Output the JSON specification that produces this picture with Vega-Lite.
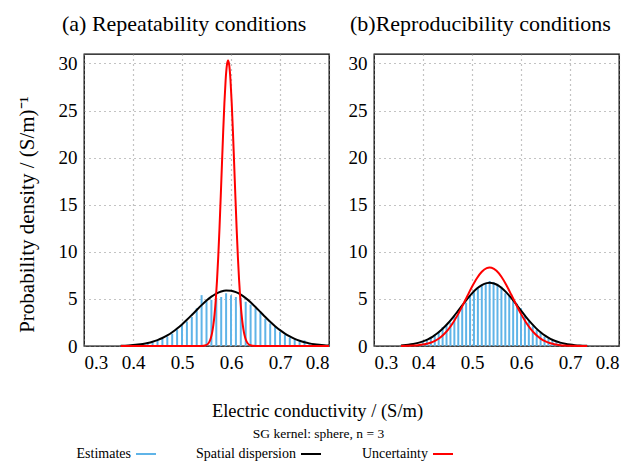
{
  "$schema": "https://vega.github.io/schema/vega-lite/v6.json",
  "background": "white",
  "padding": {"left": 15, "top": 12, "right": 5, "bottom": 0},
  "bounds": "flush",
  "spacing": 45,
  "config": {
    "font": "Liberation Serif",
    "view": {"stroke": "black", "strokeWidth": 1.3},
    "axis": {"labelFont": "Liberation Serif", "labelFontSize": 19, "labelColor": "black", "gridColor": "#888", "gridDash": [1, 4], "gridWidth": 1.2, "domain": false, "ticks": false, "labelPadding": 7, "titleFont": "Liberation Serif", "titleFontWeight": "normal", "titleColor": "black"},
    "legend": {"labelFont": "Liberation Serif", "labelFontSize": 14, "labelColor": "black"}
  },
  "datasets": {
    "a_bars": [
      {"x": 0.40, "density": 0.1}, {"x": 0.41, "density": 0.15}, {"x": 0.42, "density": 0.2}, {"x": 0.43, "density": 0.3}, {"x": 0.44, "density": 0.35},
      {"x": 0.45, "density": 0.55}, {"x": 0.46, "density": 0.75}, {"x": 0.47, "density": 1.0}, {"x": 0.48, "density": 1.3}, {"x": 0.49, "density": 1.75},
      {"x": 0.50, "density": 2.2}, {"x": 0.51, "density": 2.6}, {"x": 0.52, "density": 3.1}, {"x": 0.53, "density": 4.0}, {"x": 0.54, "density": 5.4},
      {"x": 0.55, "density": 4.8}, {"x": 0.56, "density": 4.9}, {"x": 0.57, "density": 5.1}, {"x": 0.58, "density": 5.2}, {"x": 0.59, "density": 5.6},
      {"x": 0.60, "density": 5.4}, {"x": 0.61, "density": 5.2}, {"x": 0.62, "density": 5.1}, {"x": 0.63, "density": 4.7}, {"x": 0.64, "density": 4.4},
      {"x": 0.65, "density": 4.0}, {"x": 0.66, "density": 3.5}, {"x": 0.67, "density": 2.9}, {"x": 0.68, "density": 2.4}, {"x": 0.69, "density": 2.1},
      {"x": 0.70, "density": 1.5}, {"x": 0.71, "density": 1.2}, {"x": 0.72, "density": 0.9}, {"x": 0.73, "density": 0.7}, {"x": 0.74, "density": 0.5},
      {"x": 0.75, "density": 0.6}, {"x": 0.76, "density": 0.3}, {"x": 0.77, "density": 0.2}, {"x": 0.78, "density": 0.1}
    ],
    "a_curves": [
      {"series": "Spatial dispersion", "x": 0.375, "density": 0.033}, {"series": "Spatial dispersion", "x": 0.39, "density": 0.065}, {"series": "Spatial dispersion", "x": 0.40, "density": 0.100},
      {"series": "Spatial dispersion", "x": 0.41, "density": 0.151}, {"series": "Spatial dispersion", "x": 0.42, "density": 0.223}, {"series": "Spatial dispersion", "x": 0.43, "density": 0.322},
      {"series": "Spatial dispersion", "x": 0.44, "density": 0.456}, {"series": "Spatial dispersion", "x": 0.45, "density": 0.630}, {"series": "Spatial dispersion", "x": 0.46, "density": 0.852},
      {"series": "Spatial dispersion", "x": 0.47, "density": 1.126}, {"series": "Spatial dispersion", "x": 0.48, "density": 1.459}, {"series": "Spatial dispersion", "x": 0.49, "density": 1.848},
      {"series": "Spatial dispersion", "x": 0.50, "density": 2.290}, {"series": "Spatial dispersion", "x": 0.51, "density": 2.777}, {"series": "Spatial dispersion", "x": 0.52, "density": 3.293},
      {"series": "Spatial dispersion", "x": 0.53, "density": 3.821}, {"series": "Spatial dispersion", "x": 0.54, "density": 4.339}, {"series": "Spatial dispersion", "x": 0.55, "density": 4.820},
      {"series": "Spatial dispersion", "x": 0.56, "density": 5.237}, {"series": "Spatial dispersion", "x": 0.57, "density": 5.568}, {"series": "Spatial dispersion", "x": 0.58, "density": 5.792},
      {"series": "Spatial dispersion", "x": 0.59, "density": 5.894}, {"series": "Spatial dispersion", "x": 0.60, "density": 5.868}, {"series": "Spatial dispersion", "x": 0.61, "density": 5.717},
      {"series": "Spatial dispersion", "x": 0.62, "density": 5.448}, {"series": "Spatial dispersion", "x": 0.63, "density": 5.079}, {"series": "Spatial dispersion", "x": 0.64, "density": 4.633},
      {"series": "Spatial dispersion", "x": 0.65, "density": 4.135}, {"series": "Spatial dispersion", "x": 0.66, "density": 3.610}, {"series": "Spatial dispersion", "x": 0.67, "density": 3.084},
      {"series": "Spatial dispersion", "x": 0.68, "density": 2.577}, {"series": "Spatial dispersion", "x": 0.69, "density": 2.107}, {"series": "Spatial dispersion", "x": 0.70, "density": 1.686},
      {"series": "Spatial dispersion", "x": 0.71, "density": 1.319}, {"series": "Spatial dispersion", "x": 0.72, "density": 1.010}, {"series": "Spatial dispersion", "x": 0.73, "density": 0.757},
      {"series": "Spatial dispersion", "x": 0.74, "density": 0.554}, {"series": "Spatial dispersion", "x": 0.75, "density": 0.398}, {"series": "Spatial dispersion", "x": 0.76, "density": 0.279},
      {"series": "Spatial dispersion", "x": 0.77, "density": 0.191}, {"series": "Spatial dispersion", "x": 0.78, "density": 0.129}, {"series": "Spatial dispersion", "x": 0.79, "density": 0.084},
      {"series": "Spatial dispersion", "x": 0.80, "density": 0.054},
      {"series": "Uncertainty", "x": 0.375, "density": 0}, {"series": "Uncertainty", "x": 0.50, "density": 0}, {"series": "Uncertainty", "x": 0.534, "density": 0.001},
      {"series": "Uncertainty", "x": 0.544, "density": 0.022}, {"series": "Uncertainty", "x": 0.549, "density": 0.086}, {"series": "Uncertainty", "x": 0.554, "density": 0.295},
      {"series": "Uncertainty", "x": 0.5565, "density": 0.517}, {"series": "Uncertainty", "x": 0.559, "density": 0.873}, {"series": "Uncertainty", "x": 0.5615, "density": 1.42},
      {"series": "Uncertainty", "x": 0.564, "density": 2.24}, {"series": "Uncertainty", "x": 0.5665, "density": 3.39}, {"series": "Uncertainty", "x": 0.569, "density": 4.96},
      {"series": "Uncertainty", "x": 0.5715, "density": 7.00}, {"series": "Uncertainty", "x": 0.574, "density": 9.51}, {"series": "Uncertainty", "x": 0.5765, "density": 12.48},
      {"series": "Uncertainty", "x": 0.579, "density": 15.80}, {"series": "Uncertainty", "x": 0.5815, "density": 19.27}, {"series": "Uncertainty", "x": 0.584, "density": 22.68},
      {"series": "Uncertainty", "x": 0.5865, "density": 25.75}, {"series": "Uncertainty", "x": 0.589, "density": 28.19}, {"series": "Uncertainty", "x": 0.5915, "density": 29.76},
      {"series": "Uncertainty", "x": 0.594, "density": 30.3}, {"series": "Uncertainty", "x": 0.5965, "density": 29.76}, {"series": "Uncertainty", "x": 0.599, "density": 28.19},
      {"series": "Uncertainty", "x": 0.6015, "density": 25.75}, {"series": "Uncertainty", "x": 0.604, "density": 22.68}, {"series": "Uncertainty", "x": 0.6065, "density": 19.27},
      {"series": "Uncertainty", "x": 0.609, "density": 15.80}, {"series": "Uncertainty", "x": 0.6115, "density": 12.48}, {"series": "Uncertainty", "x": 0.614, "density": 9.51},
      {"series": "Uncertainty", "x": 0.6165, "density": 7.00}, {"series": "Uncertainty", "x": 0.619, "density": 4.96}, {"series": "Uncertainty", "x": 0.6215, "density": 3.39},
      {"series": "Uncertainty", "x": 0.624, "density": 2.24}, {"series": "Uncertainty", "x": 0.6265, "density": 1.42}, {"series": "Uncertainty", "x": 0.629, "density": 0.873},
      {"series": "Uncertainty", "x": 0.6315, "density": 0.517}, {"series": "Uncertainty", "x": 0.634, "density": 0.295}, {"series": "Uncertainty", "x": 0.639, "density": 0.086},
      {"series": "Uncertainty", "x": 0.644, "density": 0.022}, {"series": "Uncertainty", "x": 0.654, "density": 0.001}, {"series": "Uncertainty", "x": 0.70, "density": 0},
      {"series": "Uncertainty", "x": 0.80, "density": 0}
    ],
    "b_bars": [
      {"x": 0.400, "density": 0.4}, {"x": 0.408, "density": 0.6}, {"x": 0.416, "density": 0.9}, {"x": 0.424, "density": 1.2}, {"x": 0.432, "density": 1.5},
      {"x": 0.440, "density": 2.0}, {"x": 0.448, "density": 2.2}, {"x": 0.456, "density": 2.5}, {"x": 0.464, "density": 3.2}, {"x": 0.472, "density": 3.6},
      {"x": 0.480, "density": 4.2}, {"x": 0.488, "density": 4.6}, {"x": 0.496, "density": 5.3}, {"x": 0.504, "density": 5.7}, {"x": 0.512, "density": 6.1},
      {"x": 0.520, "density": 6.5}, {"x": 0.528, "density": 6.7}, {"x": 0.536, "density": 6.9}, {"x": 0.544, "density": 6.8}, {"x": 0.552, "density": 6.6},
      {"x": 0.560, "density": 6.3}, {"x": 0.568, "density": 5.6}, {"x": 0.576, "density": 5.4}, {"x": 0.584, "density": 5.0}, {"x": 0.592, "density": 4.5},
      {"x": 0.600, "density": 4.0}, {"x": 0.608, "density": 3.3}, {"x": 0.616, "density": 2.6}, {"x": 0.624, "density": 2.1}, {"x": 0.632, "density": 1.7},
      {"x": 0.640, "density": 1.4}, {"x": 0.648, "density": 1.0}, {"x": 0.656, "density": 0.8}, {"x": 0.664, "density": 0.6}, {"x": 0.672, "density": 0.4},
      {"x": 0.680, "density": 0.3}
    ],
    "b_curves": [
      {"series": "Spatial dispersion", "x": 0.355, "density": 0.066}, {"series": "Spatial dispersion", "x": 0.36, "density": 0.084}, {"series": "Spatial dispersion", "x": 0.37, "density": 0.137},
      {"series": "Spatial dispersion", "x": 0.38, "density": 0.216}, {"series": "Spatial dispersion", "x": 0.39, "density": 0.331}, {"series": "Spatial dispersion", "x": 0.40, "density": 0.492},
      {"series": "Spatial dispersion", "x": 0.41, "density": 0.713}, {"series": "Spatial dispersion", "x": 0.42, "density": 1.003}, {"series": "Spatial dispersion", "x": 0.43, "density": 1.373},
      {"series": "Spatial dispersion", "x": 0.44, "density": 1.826}, {"series": "Spatial dispersion", "x": 0.45, "density": 2.361}, {"series": "Spatial dispersion", "x": 0.46, "density": 2.968},
      {"series": "Spatial dispersion", "x": 0.47, "density": 3.627}, {"series": "Spatial dispersion", "x": 0.48, "density": 4.309}, {"series": "Spatial dispersion", "x": 0.49, "density": 4.977},
      {"series": "Spatial dispersion", "x": 0.50, "density": 5.588}, {"series": "Spatial dispersion", "x": 0.51, "density": 6.099}, {"series": "Spatial dispersion", "x": 0.52, "density": 6.472},
      {"series": "Spatial dispersion", "x": 0.53, "density": 6.676}, {"series": "Spatial dispersion", "x": 0.536, "density": 6.71}, {"series": "Spatial dispersion", "x": 0.54, "density": 6.695},
      {"series": "Spatial dispersion", "x": 0.55, "density": 6.527}, {"series": "Spatial dispersion", "x": 0.56, "density": 6.186}, {"series": "Spatial dispersion", "x": 0.57, "density": 5.699},
      {"series": "Spatial dispersion", "x": 0.58, "density": 5.105}, {"series": "Spatial dispersion", "x": 0.59, "density": 4.445}, {"series": "Spatial dispersion", "x": 0.60, "density": 3.762},
      {"series": "Spatial dispersion", "x": 0.61, "density": 3.096}, {"series": "Spatial dispersion", "x": 0.62, "density": 2.477}, {"series": "Spatial dispersion", "x": 0.63, "density": 1.926},
      {"series": "Spatial dispersion", "x": 0.64, "density": 1.457}, {"series": "Spatial dispersion", "x": 0.65, "density": 1.070}, {"series": "Spatial dispersion", "x": 0.66, "density": 0.765},
      {"series": "Spatial dispersion", "x": 0.67, "density": 0.531}, {"series": "Spatial dispersion", "x": 0.68, "density": 0.359}, {"series": "Spatial dispersion", "x": 0.69, "density": 0.236},
      {"series": "Spatial dispersion", "x": 0.70, "density": 0.150}, {"series": "Spatial dispersion", "x": 0.71, "density": 0.093}, {"series": "Spatial dispersion", "x": 0.72, "density": 0.056},
      {"series": "Spatial dispersion", "x": 0.735, "density": 0.025},
      {"series": "Uncertainty", "x": 0.355, "density": 0.007}, {"series": "Uncertainty", "x": 0.37, "density": 0.021}, {"series": "Uncertainty", "x": 0.38, "density": 0.041},
      {"series": "Uncertainty", "x": 0.39, "density": 0.080}, {"series": "Uncertainty", "x": 0.40, "density": 0.148}, {"series": "Uncertainty", "x": 0.41, "density": 0.262},
      {"series": "Uncertainty", "x": 0.42, "density": 0.444}, {"series": "Uncertainty", "x": 0.43, "density": 0.720}, {"series": "Uncertainty", "x": 0.44, "density": 1.118},
      {"series": "Uncertainty", "x": 0.45, "density": 1.662}, {"series": "Uncertainty", "x": 0.46, "density": 2.366}, {"series": "Uncertainty", "x": 0.47, "density": 3.224},
      {"series": "Uncertainty", "x": 0.48, "density": 4.206}, {"series": "Uncertainty", "x": 0.49, "density": 5.253}, {"series": "Uncertainty", "x": 0.50, "density": 6.281},
      {"series": "Uncertainty", "x": 0.51, "density": 7.189}, {"series": "Uncertainty", "x": 0.52, "density": 7.878}, {"series": "Uncertainty", "x": 0.53, "density": 8.265},
      {"series": "Uncertainty", "x": 0.536, "density": 8.33}, {"series": "Uncertainty", "x": 0.54, "density": 8.301}, {"series": "Uncertainty", "x": 0.55, "density": 7.982},
      {"series": "Uncertainty", "x": 0.56, "density": 7.347}, {"series": "Uncertainty", "x": 0.57, "density": 6.475}, {"series": "Uncertainty", "x": 0.58, "density": 5.463},
      {"series": "Uncertainty", "x": 0.59, "density": 4.412}, {"series": "Uncertainty", "x": 0.60, "density": 3.412}, {"series": "Uncertainty", "x": 0.61, "density": 2.526},
      {"series": "Uncertainty", "x": 0.62, "density": 1.790}, {"series": "Uncertainty", "x": 0.63, "density": 1.215}, {"series": "Uncertainty", "x": 0.64, "density": 0.789},
      {"series": "Uncertainty", "x": 0.65, "density": 0.491}, {"series": "Uncertainty", "x": 0.66, "density": 0.292}, {"series": "Uncertainty", "x": 0.67, "density": 0.167},
      {"series": "Uncertainty", "x": 0.68, "density": 0.091}, {"series": "Uncertainty", "x": 0.69, "density": 0.047}, {"series": "Uncertainty", "x": 0.70, "density": 0.024},
      {"series": "Uncertainty", "x": 0.735, "density": 0.002}
    ]
  },
  "hconcat": [
    {
      "width": 245, "height": 292,
      "title": {"text": "(a)  Repeatability conditions", "anchor": "start", "frame": "group", "dx": -22, "fontSize": 22, "fontWeight": "normal", "offset": 18, "color": "black"},
      "layer": [
        {
          "data": {"name": "a_bars"},
          "transform": [{"calculate": "'Estimates'", "as": "series"}],
          "mark": {"type": "rule", "strokeWidth": 2},
          "encoding": {
            "x": {"field": "x", "type": "quantitative", "scale": {"domain": [0.3, 0.8], "nice": false}, "axis": {"values": [0.3, 0.4, 0.5, 0.6, 0.7, 0.8], "format": ".1f", "grid": true, "title": "Electric conductivity / (S/m)", "titleFontSize": 18.5, "titleX": 233, "titleY": 64, "titleAlign": "center", "titleBaseline": "middle", "titleAnchor": null}},
            "y": {"field": "density", "type": "quantitative", "scale": {"domain": [0, 31], "nice": false}, "axis": {"values": [0, 5, 10, 15, 20, 25, 30], "title": "Probability density / (S/m)⁻¹", "titleFontSize": 21, "titlePadding": 21, "titleY": 160, "grid": true}},
            "y2": {"datum": 0},
            "color": {"field": "series", "type": "nominal", "scale": {"domain": ["Estimates", "Spatial dispersion", "Uncertainty"], "range": ["#5fb4e8", "black", "red"]}, "legend": {"title": null, "orient": "none", "direction": "horizontal", "legendX": 51, "legendY": 389, "symbolType": "stroke", "symbolSize": 400, "symbolStrokeWidth": 2, "labelAlign": "right", "labelOffset": -26, "columnPadding": 36}}
          }
        },
        {
          "data": {"name": "a_curves"},
          "mark": {"type": "line", "strokeWidth": 2, "interpolate": "monotone"},
          "encoding": {
            "x": {"field": "x", "type": "quantitative"},
            "y": {"field": "density", "type": "quantitative"},
            "color": {"field": "series", "type": "nominal"}
          }
        }
      ]
    },
    {
      "width": 245, "height": 292,
      "title": {"text": "(b)Reproducibility conditions", "anchor": "start", "frame": "group", "dx": -24, "fontSize": 22, "fontWeight": "normal", "offset": 18, "color": "black"},
      "layer": [
        {
          "data": {"name": "b_bars"},
          "transform": [{"calculate": "'Estimates'", "as": "series"}],
          "mark": {"type": "rule", "strokeWidth": 2},
          "encoding": {
            "x": {"field": "x", "type": "quantitative", "scale": {"domain": [0.3, 0.8], "nice": false}, "axis": {"values": [0.3, 0.4, 0.5, 0.6, 0.7, 0.8], "format": ".1f", "grid": true, "title": "SG kernel: sphere, n = 3", "titleFontSize": 13.5, "titleX": -56, "titleY": 87, "titleAlign": "center", "titleBaseline": "middle", "titleAnchor": null}},
            "y": {"field": "density", "type": "quantitative", "scale": {"domain": [0, 31], "nice": false}, "axis": {"values": [0, 5, 10, 15, 20, 25, 30], "title": null, "grid": true}},
            "y2": {"datum": 0},
            "color": {"field": "series", "type": "nominal"}
          }
        },
        {
          "data": {"name": "b_curves"},
          "mark": {"type": "line", "strokeWidth": 2, "interpolate": "monotone"},
          "encoding": {
            "x": {"field": "x", "type": "quantitative"},
            "y": {"field": "density", "type": "quantitative"},
            "color": {"field": "series", "type": "nominal"}
          }
        }
      ]
    }
  ]
}
